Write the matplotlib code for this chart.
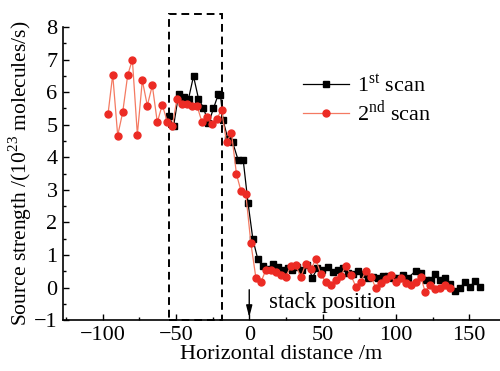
import matplotlib
matplotlib.use("Agg")
import matplotlib.pyplot as plt
from matplotlib.patches import Rectangle
from matplotlib.ticker import MultipleLocator

plt.rcParams['font.family'] = ['Liberation Serif', 'DejaVu Serif']
plt.rcParams['mathtext.fontset'] = 'custom'
plt.rcParams['mathtext.rm'] = 'Liberation Serif'

# -------- DATA --------
x_scan1 = [-55.0, -51.6, -48.2, -44.8, -41.4, -38.0, -34.6, -31.2, -27.8, -24.4,
           -21.0, -19.6, -17.9, -14.6, -11.4, -7.5, -4.1, -0.8, 2.5, 5.8,
           9.1, 12.5, 15.9, 19.3, 22.7, 26.1, 29.5, 32.9, 36.3, 39.7,
           43.1, 46.5, 49.9, 53.4, 57.0, 60.4, 63.8, 67.2, 70.8, 74.5,
           77.9, 81.3, 84.7, 88.1, 91.5, 94.9, 98.3, 101.7, 105.1, 108.5,
           113.5, 117.0, 120.4, 123.8, 126.7, 130.1, 133.5, 136.9, 140.3, 143.7,
           147.1, 150.5, 153.9, 157.4]
y_scan1 = [5.26, 4.96, 5.93, 5.86, 5.80, 6.49, 5.80, 5.52, 5.04, 5.50,
           5.95, 5.92, 5.15, 4.57, 4.47, 3.91, 3.91, 2.59, 1.48, 0.88,
           0.65, 0.56, 0.74, 0.64, 0.53, 0.59, 0.54, 0.64, 0.54, 0.68,
           0.31, 0.59, 0.54, 0.63, 0.48, 0.54, 0.59, 0.46, 0.41, 0.51,
           0.41, 0.30, 0.33, 0.29, 0.36, 0.35, 0.31, 0.30, 0.38, 0.31,
           0.51, 0.44, 0.23, 0.23, 0.43, 0.23, 0.31, 0.11, -0.09, -0.02,
           0.18, 0.01, 0.21, 0.01]

x_scan2 = [-96.3, -93.1, -89.7, -86.3, -82.9, -79.7, -76.3, -72.9, -69.5, -66.1,
           -62.7, -59.3, -55.9, -52.5, -49.3, -45.9, -42.4, -39.0, -35.6, -32.2,
           -28.8, -25.4, -22.0, -18.9, -15.5, -12.1, -8.7, -5.7, -2.3, 1.1,
           4.5, 7.9, 11.3, 14.7, 18.2, 21.6, 25.0, 28.4, 31.8, 35.2,
           38.6, 42.0, 45.4, 48.8, 52.2, 55.7, 59.1, 62.5, 65.9, 69.3,
           72.7, 76.1, 79.5, 82.9, 86.3, 89.7, 93.1, 96.5, 99.9, 103.3,
           106.7, 110.1, 113.6, 117.0, 119.9, 123.3, 126.7, 130.1, 133.5, 136.9]
y_scan2 = [5.33, 6.54, 4.67, 5.38, 6.52, 7.00, 4.70, 6.36, 5.59, 6.21,
           5.08, 5.61, 5.10, 4.95, 5.79, 5.65, 5.65, 5.57, 5.58, 5.08,
           5.25, 5.01, 5.19, 5.46, 4.46, 4.75, 3.48, 2.98, 2.86, 1.37,
           0.31, 0.16, 0.54, 0.54, 0.49, 0.39, 0.34, 0.67, 0.68, 0.32,
           0.74, 0.56, 0.87, 0.41, 0.17, 0.09, 0.23, 0.36, 0.67, 0.38,
           0.03, 0.17, 0.51, 0.34, -0.01, 0.13, 0.26, 0.38, 0.16, 0.31,
           0.13, 0.09, 0.16, 0.33, -0.12, 0.08, -0.05, -0.02, 0.08, -0.02]

labels = ["1$^{\\rm st}$ scan", "2$^{\\rm nd}$ scan"]
box_x = (-55.0, -18.4)
box_y = (-1.0, 8.4)

# -------- FIGURE --------
fig = plt.figure(figsize=(5, 3.71), dpi=100)
ax = fig.add_axes([0.126, 0.137, 0.874, 0.790])

ax.plot(x_scan1, y_scan1, '-s', color='black', lw=0.9, ms=4.5, label=labels[0])
ax.plot(x_scan2, y_scan2, '-o', color='#f47a62', lw=0.9, ms=5,
        mfc='#ec2b24', mec='#ec2b24', label=labels[1])

ax.add_patch(Rectangle((box_x[0], box_y[0]), box_x[1] - box_x[0], box_y[1] - box_y[0],
                       fill=False, ls=(0, (4, 2.5)), lw=1.4, ec='black', clip_on=False))

ax.annotate('', xy=(0, -1), xytext=(0, 0.02),
            arrowprops=dict(arrowstyle='-|>,head_width=0.18,head_length=0.7',
                            color='black', lw=1.0))
ax.text(13.6, -0.45, 'stack position', fontsize=16.5, va='center', ha='left')

ax.set_xlim(-127, 171)
ax.set_ylim(-1, 8)
ax.xaxis.set_major_locator(MultipleLocator(50))
ax.xaxis.set_minor_locator(MultipleLocator(25))
ax.yaxis.set_major_locator(MultipleLocator(1))
ax.yaxis.set_minor_locator(MultipleLocator(0.5))
ax.tick_params(which='both', direction='in', labelsize=16, width=1)
ax.tick_params(which='major', length=4.5)
ax.tick_params(axis='x', pad=4)
ax.tick_params(axis='y', pad=4)
ax.tick_params(which='minor', length=2.5)
ax.spines['top'].set_visible(False)
ax.spines['right'].set_visible(False)
ax.spines['left'].set_linewidth(1.2)
ax.spines['bottom'].set_linewidth(1.2)

ax.set_xlabel('Horizontal distance /m', fontsize=16, labelpad=0)
ax.set_ylabel('Source strength /(10$^{23}$ molecules/s)', fontsize=15.5, labelpad=0)

ax.legend(frameon=False, fontsize=16, handlelength=2.1, handletextpad=0.35,
          labelspacing=0.1, loc='upper left', bbox_to_anchor=(0.565, 0.855),
          bbox_transform=fig.transFigure)

fig.savefig('out.png', dpi=100)
